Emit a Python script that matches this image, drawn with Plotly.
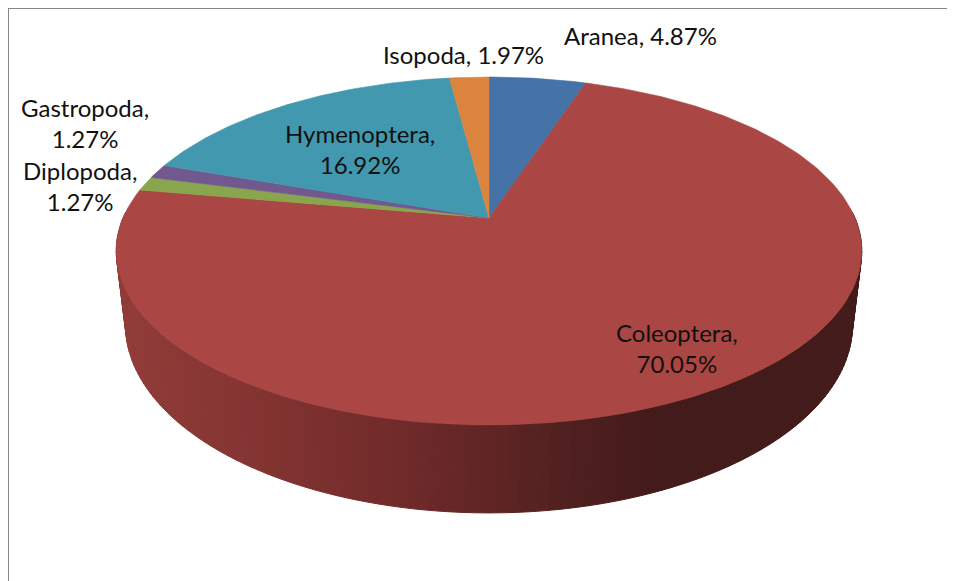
import numpy as np
import plotly.graph_objects as go

# ---- data ----
categories = ["Aranea", "Coleoptera", "Diplopoda", "Gastropoda", "Hymenoptera", "Isopoda"]
percentages = [4.87, 70.05, 1.27, 1.27, 16.92, 1.97]
slice_colors = ["#4572A7", "#AA4643", "#89A54E", "#71588F", "#4198AF", "#DB843D"]
label_two_lines = [False, True, True, True, True, False]
label_pos = [(640, 35), (677, 348), (80, 186), (85, 123), (360, 149), (463, 54)]

# ---- geometry (style) ----
W, H = 955, 581
OFF = 8                     # page body margin
CX, CY = 489.0, 218.0      # projected pie centre (apex)
A, B, K = 366.0, 167.7, 0.1896  # perspective ellipse parameters
DEPTH, BSCALE = 71.3, 0.975


def proj(t):
    w = 1 + K * np.sin(t)
    return CX + A * np.cos(t) / w, CY - B * np.sin(t) / w


def proj_bottom(t):
    w = 1 + K * np.sin(t)
    x, y = proj(t)
    return CX + BSCALE * (x - CX), y + DEPTH / w


def side_color(x):
    xs = [116, 300, 440, 560, 650, 955]
    cs = np.array([[146, 60, 57], [126, 49, 47], [106, 40, 40], [82, 32, 32], [68, 27, 27], [66, 27, 27]])
    c = [np.interp(x, xs, cs[:, j]) for j in range(3)]
    return "rgb(%d,%d,%d)" % tuple(int(round(v)) for v in c)


fig = go.Figure()

total = sum(percentages)
cum = np.concatenate([[0], np.cumsum(percentages)]) / total
start_angles = np.deg2rad(90 - 360 * cum[:-1])
end_angles = np.deg2rad(90 - 360 * cum[1:])

# ---- side wall (only the Coleoptera slice faces the viewer) ----
ci = categories.index("Coleoptera")
s0, e0 = start_angles[ci], end_angles[ci]
lo = max(e0, np.deg2rad(-182))
hi = min(s0, np.deg2rad(2))
nstrip = 140
ts = np.linspace(lo, hi, nstrip + 1)
for j in range(nstrip):
    ta, tb = ts[j], ts[j + 1]
    sub = np.linspace(ta, tb, 3)
    xt, yt = proj(sub)
    xb, yb = proj_bottom(sub[::-1])
    xx = np.concatenate([xt, xb, xt[:1]])
    yy = np.concatenate([yt, yb, yt[:1]])
    col = side_color(np.mean(xt))
    fig.add_trace(go.Scatter(x=xx, y=yy, mode="lines", fill="toself",
                             fillcolor=col, line=dict(color=col, width=1),
                             hoverinfo="skip", showlegend=False))

# ---- top face slices ----
for i, name in enumerate(categories):
    n = max(4, int(abs(end_angles[i] - start_angles[i]) / np.deg2rad(1)) + 2)
    t = np.linspace(start_angles[i], end_angles[i], n)
    x, y = proj(t)
    xx = np.concatenate([[CX], x, [CX]])
    yy = np.concatenate([[CY], y, [CY]])
    fig.add_trace(go.Scatter(x=xx, y=yy, mode="lines", fill="toself",
                             fillcolor=slice_colors[i],
                             line=dict(color=slice_colors[i], width=0.6),
                             name=name, hoverinfo="name", showlegend=False))

# ---- labels ----
for i, name in enumerate(categories):
    sep = ",<br>" if label_two_lines[i] else ", "
    txt = f"{name}{sep}{percentages[i]:.2f}%"
    fig.add_annotation(x=label_pos[i][0], y=label_pos[i][1], text=txt,
                       showarrow=False, xanchor="center", yanchor="middle",
                       borderpad=0,
                       font=dict(family="Lato", size=24, color="#111111"))

# ---- chart frame (left and top edges visible) ----
fig.add_shape(type="line", xref="paper", yref="paper", x0=0, y0=1, x1=1.01, y1=1,
              line=dict(color="#878787", width=2))
fig.add_shape(type="line", xref="paper", yref="paper", x0=0, y0=1, x1=0, y1=-0.02,
              line=dict(color="#878787", width=2))

fig.update_xaxes(range=[OFF, W], visible=False, fixedrange=True)
fig.update_yaxes(range=[H, OFF], visible=False, fixedrange=True)
fig.update_layout(width=W - OFF, height=H - OFF, margin=dict(l=0, r=0, t=0, b=0),
                  plot_bgcolor="white", paper_bgcolor="white", showlegend=False)

fig.write_html("out.html")
